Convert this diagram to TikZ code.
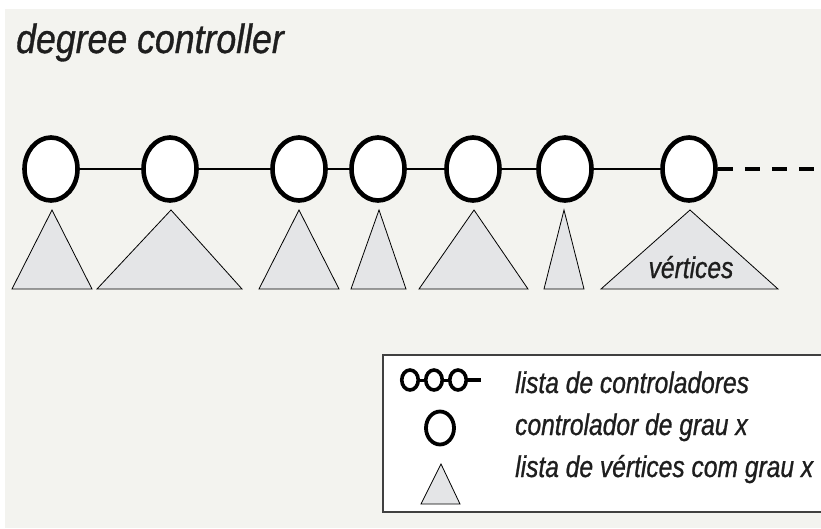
\documentclass[tikz,border=0pt]{standalone}
\usepackage{fontspec}
\setmainfont{Liberation Sans}
\newfontfamily\lfont[FakeStretch=0.82,FakeBold=0.8]{Liberation Sans}
\newfontfamily\tfont[FakeStretch=0.87,FakeBold=0.8]{Liberation Sans}
\usetikzlibrary{shapes.geometric}
\definecolor{bggray}{HTML}{F3F3EF}
\definecolor{trigray}{HTML}{E4E5E7}
\definecolor{txt}{HTML}{1E1E1E}
\tikzset{
  ctrl/.style={ellipse, draw=black, fill=white, line width=4.6pt, inner sep=0pt,
    minimum width=53pt, minimum height=63pt},
  lctrl/.style={ellipse, draw=black, fill=white, line width=3.8pt, inner sep=0pt,
    minimum width=28pt, minimum height=33pt},
  sctrl/.style={ellipse, draw=black, fill=white, line width=3.6pt, inner sep=0pt,
    minimum width=16.5pt, minimum height=20pt},
  link/.style={line width=2.8pt, draw=black},
  tri/.style={draw=black, line width=0.8pt, fill=trigray, line join=miter},
  lbl/.style={font=\lfont\itshape\fontsize{30}{36}\selectfont, text=txt, inner sep=0pt, anchor=base west},
}
\begin{document}
\begin{tikzpicture}[x=1pt,y=-1pt]
\useasboundingbox (0,0) rectangle (821,528);
\fill[white] (0,0) rectangle (821,528);
\fill[bggray] (5,9) rectangle (821,528);
% title
\node[font=\tfont\itshape\fontsize{41}{48}\selectfont, text=txt, inner sep=0pt, anchor=base west] (title) at (16,53) {degree controller};
% controllers
\foreach \n/\x in {1/51,2/170,3/299,4/378,5/473,6/565,7/689}{
  \node[ctrl] (c\n) at (\x,169) {};
}
\draw[link] (c1) -- (c2);
\draw[link] (c2) -- (c3);
\draw[link] (c3) -- (c4);
\draw[link] (c4) -- (c5);
\draw[link] (c5) -- (c6);
\draw[link] (c6) -- (c7);
\coordinate (dend) at (826,169);
\draw[line width=4.2pt, dash pattern=on 15pt off 12pt] (c7.east) -- (dend);
% triangles
\draw[tri] (12,289) -- (52,210) -- (92,289) -- cycle;
\draw[tri] (97,289) -- (171,210) -- (242,289) -- cycle;
\draw[tri] (259,289) -- (299,210) -- (339,289) -- cycle;
\draw[tri] (351,289) -- (379,210) -- (406,289) -- cycle;
\draw[tri] (419,289) -- (474,210) -- (528,289) -- cycle;
\draw[tri] (544,289) -- (564,210) -- (584,289) -- cycle;
\draw[tri] (601,289) -- (690,210) -- (778,289) -- cycle;
\node[font=\lfont\itshape\fontsize{30}{36}\selectfont, text=txt, inner sep=0pt, anchor=base] (vert) at (691,278) {vértices};
% legend
\draw[line width=1.2pt, draw=black!75, fill=white] (383,355) -- (830,355) -- (830,512) -- (383,512) -- cycle;
\node[sctrl] (l1) at (410,380) {};
\node[sctrl] (l2) at (434,380) {};
\node[sctrl] (l3) at (458,380) {};
\coordinate (lend) at (481,380);
\draw[line width=3pt] (l1) -- (l2);
\draw[line width=3pt] (l2) -- (l3);
\draw[line width=3.5pt] (l3) -- (lend);
\node[lctrl] (lc) at (440,428) {};
\draw[tri] (421,504) -- (441,464) -- (460,504) -- cycle;
\node[lbl] (t1) at (515,393) {lista de controladores};
\node[lbl] (t2) at (515,435) {controlador de grau x};
\node[lbl] (t3) at (515,477) {lista de vértices com grau x};
\end{tikzpicture}
\end{document}
